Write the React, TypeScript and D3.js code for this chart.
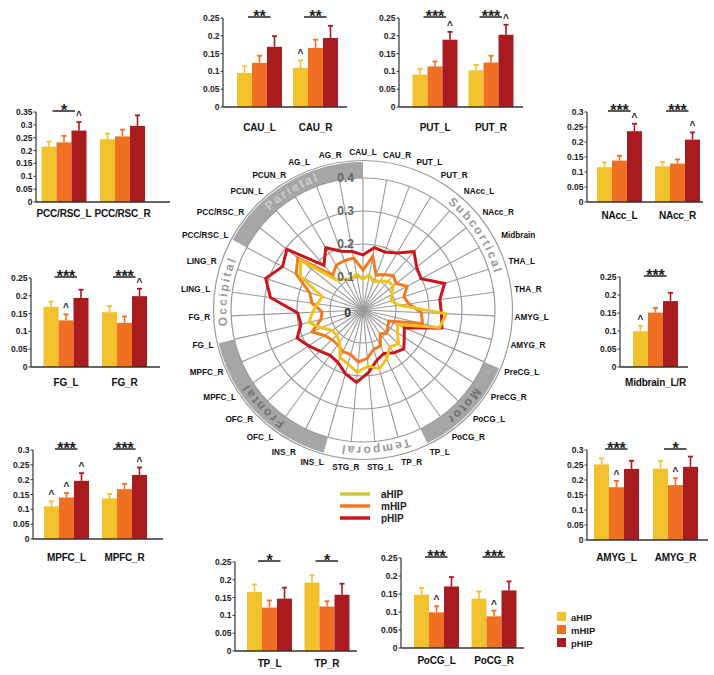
import React from 'react';
import * as d3 from 'd3';

// ---------------- Radar data ----------------
const regions = ['CAU_L','CAU_R','PUT_L','PUT_R','NAcc_L','NAcc_R','Midbrain','THA_L','THA_R','AMYG_L','AMYG_R','PreCG_L','PreCG_R','PoCG_L','PoCG_R','TP_L','TP_R','STG_L','STG_R','INS_L','INS_R','OFC_L','OFC_R','MPFC_L','MPFC_R','FG_L','FG_R','LING_L','LING_R','PCC/RSC_L','PCC/RSC_R','PCUN_L','PCUN_R','AG_L','AG_R'];
const radarA = [0.093,0.108,0.091,0.102,0.116,0.118,0.099,0.09,0.11,0.253,0.238,0.114,0.125,0.149,0.138,0.165,0.185,0.17,0.19,0.17,0.16,0.12,0.11,0.112,0.137,0.168,0.153,0.14,0.13,0.215,0.242,0.12,0.109,0.10,0.11];
const radarM = [0.121,0.165,0.113,0.125,0.138,0.129,0.152,0.13,0.14,0.177,0.185,0.085,0.09,0.100,0.089,0.121,0.123,0.147,0.158,0.14,0.14,0.13,0.13,0.140,0.168,0.131,0.124,0.156,0.17,0.230,0.253,0.14,0.158,0.16,0.16];
const radarP = [0.167,0.192,0.188,0.201,0.235,0.208,0.20,0.26,0.235,0.238,0.245,0.136,0.15,0.171,0.160,0.146,0.158,0.19,0.22,0.20,0.176,0.17,0.18,0.197,0.217,0.193,0.198,0.283,0.31,0.277,0.295,0.18,0.22,0.19,0.18];
const radarTicks = [0.1, 0.2, 0.3, 0.4];

const groupNames = ['Subcortical','Motor','Temporal','Frontal','Occipital','Parietal'];
const groupSizes = [11, 4, 4, 6, 4, 6];
const groupShaded = [false, true, false, true, false, true];

const seriesNames = ['aHIP','mHIP','pHIP'];

// ---------------- Bar data ----------------
const barRegions = ['CAU_L','CAU_R','PUT_L','PUT_R','PCC/RSC_L','PCC/RSC_R','FG_L','FG_R','MPFC_L','MPFC_R','NAcc_L','NAcc_R','Midbrain_L/R','AMYG_L','AMYG_R','TP_L','TP_R','PoCG_L','PoCG_R'];
const barA = [0.0955,0.110,0.091,0.103,0.215,0.244,0.169,0.154,0.110,0.137,0.116,0.119,0.099,0.252,0.238,0.166,0.192,0.148,0.137];
const barM = [0.124,0.166,0.114,0.125,0.232,0.255,0.131,0.124,0.140,0.168,0.138,0.128,0.151,0.176,0.183,0.122,0.125,0.099,0.088];
const barP = [0.169,0.194,0.189,0.203,0.278,0.296,0.194,0.199,0.196,0.216,0.236,0.208,0.183,0.237,0.244,0.147,0.158,0.171,0.160];
const errA = [0.019,0.021,0.016,0.015,0.020,0.022,0.015,0.017,0.017,0.015,0.016,0.014,0.015,0.020,0.025,0.021,0.021,0.019,0.020];
const errM = [0.020,0.023,0.014,0.019,0.025,0.026,0.017,0.018,0.015,0.018,0.016,0.014,0.013,0.021,0.023,0.020,0.015,0.017,0.016];
const errP = [0.030,0.034,0.022,0.028,0.033,0.041,0.023,0.021,0.026,0.025,0.025,0.024,0.023,0.027,0.034,0.031,0.031,0.026,0.025];
const barStars = ['**','**','***','***','*','','***','***','***','***','***','***','***','***','*','*','*','***','***'];
const barCarets = ['','a','p','p','p','','m','p','amp','p','p','p','a','m','m','','','m','m'];

// ---------------- Layout (positions only) ----------------
const panels = [
  { regions: ['CAU_L','CAU_R'], axisX: 223, axisEnd: 347, y0: 107, yTop: 18, max: 0.25, band: [231.5, 343.5], labelY: 131 },
  { regions: ['PUT_L','PUT_R'], axisX: 399, axisEnd: 523, y0: 107, yTop: 18, max: 0.25, band: [407, 519], labelY: 131 },
  { regions: ['PCC/RSC_L','PCC/RSC_R'], axisX: 36, axisEnd: 170, y0: 202, yTop: 112, max: 0.35, band: [34.75, 151.75], labelY: 217 },
  { regions: ['FG_L','FG_R'], axisX: 31, axisEnd: 160, y0: 367, yTop: 278, max: 0.25, band: [36.75, 153.75], labelY: 386 },
  { regions: ['MPFC_L','MPFC_R'], axisX: 33, axisEnd: 163, y0: 539, yTop: 450, max: 0.3, band: [37.5, 153.5], labelY: 561 },
  { regions: ['NAcc_L','NAcc_R'], axisX: 587, axisEnd: 703, y0: 202, yTop: 112, max: 0.3, band: [590.5, 706.5], labelY: 219 },
  { regions: ['Midbrain_L/R'], axisX: 620, axisEnd: 688, y0: 367, yTop: 277, max: 0.25, band: [620.5, 690.5], labelY: 386 },
  { regions: ['AMYG_L','AMYG_R'], axisX: 587, axisEnd: 708, y0: 540, yTop: 450, max: 0.3, band: [587, 705], labelY: 561 },
  { regions: ['TP_L','TP_R'], axisX: 235, axisEnd: 357, y0: 651, yTop: 562, max: 0.25, band: [240.75, 355.75], labelY: 667 },
  { regions: ['PoCG_L','PoCG_R'], axisX: 401, axisEnd: 524, y0: 648, yTop: 558, max: 0.25, band: [407.75, 522.75], labelY: 664 },
];

const barColors = ['#f2c12e', '#f07023', '#a81c20'];
const lineColors = ['#f0c21c', '#f07a22', '#c8161c'];
const FONT = 'Arial, "Liberation Sans", Helvetica, sans-serif';

function fmt(t: number) {
  return String(+t.toFixed(2));
}

function BarPanel({ p }: { p: any }) {
  const y = d3.scaleLinear().domain([0, p.max]).range([p.y0, p.yTop]);
  const x = d3.scaleBand<string>().domain(p.regions).range(p.band);
  const inner = d3.scaleBand<string>().domain(seriesNames).range([-22.5, 22.5]);
  const ticks = d3.range(0, p.max + 1e-9, 0.05);
  return (
    <g>
      {p.regions.map((reg: string) => {
        const k = barRegions.indexOf(reg);
        const c = (x(reg) as number) + x.bandwidth() / 2;
        const means = [barA[k], barM[k], barP[k]];
        const errs = [errA[k], errM[k], errP[k]];
        const caret = barCarets[k];
        const star = barStars[k];
        const sigY = p.yTop - 1;
        return (
          <g key={reg}>
            {seriesNames.map((s, j) => {
              const bx = c + (inner(s) as number);
              const bw = inner.bandwidth();
              const top = y(means[j]);
              const et = y(means[j] + errs[j]);
              const mx = bx + bw / 2;
              const hasCaret = caret.includes(s[0]);
              return (
                <g key={s}>
                  <line x1={mx} x2={mx} y1={top} y2={et} stroke={barColors[j]} strokeWidth={1.6} />
                  <line x1={mx - 2.5} x2={mx + 2.5} y1={et} y2={et} stroke={barColors[j]} strokeWidth={1.8} />
                  <rect x={bx} y={top} width={bw} height={p.y0 - top} fill={barColors[j]} />
                  {hasCaret && (
                    <text x={mx} y={et - 3} textAnchor="middle" fontSize={10} fontWeight="bold" fill="#222" fontFamily={FONT}>^</text>
                  )}
                </g>
              );
            })}
            {star && (
              <g>
                <line x1={c - 11.5} x2={c + 11} y1={sigY} y2={sigY} stroke="#222" strokeWidth={1.5} />
                <text x={c} y={sigY + 4.5} textAnchor="middle" fontSize={16} fontWeight="bold" fill="#222" fontFamily={FONT}>{star}</text>
              </g>
            )}
            <text x={c} y={p.labelY} textAnchor="middle" fontSize={10} letterSpacing={-0.2} fontWeight="bold" fill="#111" fontFamily={FONT}>{reg}</text>
          </g>
        );
      })}
      <line x1={p.axisX} x2={p.axisX} y1={p.y0} y2={y(p.max)} stroke="#333" strokeWidth={1.2} />
      <line x1={p.axisX} x2={p.axisEnd} y1={p.y0} y2={p.y0} stroke="#333" strokeWidth={1.4} />
      {ticks.map((t: number) => (
        <g key={t}>
          <line x1={p.axisX - 2.5} x2={p.axisX} y1={y(t)} y2={y(t)} stroke="#333" strokeWidth={1} />
          <text x={p.axisX - 3.5} y={y(t) + 3} textAnchor="end" fontSize={8.5} fontWeight="bold" fill="#222" fontFamily={FONT}>{fmt(t)}</text>
        </g>
      ))}
    </g>
  );
}

export default function App() {
  const cx = 363, cy = 310;
  const n = regions.length;
  const step = (2 * Math.PI) / n;
  const r = d3.scaleLinear().domain([0, 0.4]).range([0, 132]);
  const rIn = r(0.4), rOut = 148;
  const radial = d3.lineRadial<number>().angle((_d, i) => i * step).radius((d) => r(d)).curve(d3.curveLinearClosed);
  const arc = d3.arc<any>();

  let acc = 0;
  const groups = groupNames.map((name, g) => {
    const s = acc * step;
    acc += groupSizes[g];
    const e = acc * step;
    return { name, s, e, shaded: groupShaded[g] };
  });

  const pt = (ang: number, rad: number) => [cx + rad * Math.sin(ang), cy - rad * Math.cos(ang)];
  const rt = 136.5;

  const series = [radarP, radarM, radarA];
  const seriesCols = [lineColors[2], lineColors[1], lineColors[0]];

  return (
    <svg width={714} height={675} style={{ position: 'absolute', left: 0, top: 0, background: '#fff' }} fontFamily={FONT}>
      <rect width={714} height={675} fill="#fff" />
      {/* Radar */}
      <g>
        {groups.map((g, i) => (
          <path key={'b' + i} transform={`translate(${cx},${cy})`}
            d={arc({ innerRadius: rIn, outerRadius: rOut, startAngle: g.s, endAngle: g.e }) as string}
            fill={g.shaded ? '#a6a6a6' : '#fff'} />
        ))}
        <circle cx={cx} cy={cy} r={rOut + 1.5} fill="none" stroke="#9a9a9a" strokeWidth={1.2} />
        {radarTicks.map((t) => (
          <circle key={t} cx={cx} cy={cy} r={r(t)} fill="none" stroke="#9a9a9a" strokeWidth={1.2} />
        ))}
        {regions.map((reg, i) => {
          const [x2, y2] = pt(i * step, rIn);
          return <line key={reg} x1={cx} y1={cy} x2={x2} y2={y2} stroke="#9a9a9a" strokeWidth={1.1} />;
        })}
        {groups.map((g, i) => {
          const [x1, y1] = pt(g.s, rt);
          const [x2, y2] = pt(g.e, rt);
          const large = g.e - g.s > Math.PI ? 1 : 0;
          return (
            <g key={'t' + i}>
              <path id={'gp' + i} d={`M${x1},${y1} A${rt},${rt} 0 ${large} 1 ${x2},${y2}`} fill="none" />
              <text fontSize={12} fontWeight="bold" letterSpacing={2}
                fill={g.name === 'Parietal' ? '#cdcdcd' : g.shaded ? '#707070' : '#9a9a9a'}>
                <textPath href={'#gp' + i} startOffset="50%" textAnchor="middle">{g.name}</textPath>
              </text>
            </g>
          );
        })}
        {series.map((vals, k) => (
          <path key={k} transform={`translate(${cx},${cy})`} d={radial(vals) as string}
            fill="none" stroke={seriesCols[k]} strokeWidth={3} strokeLinejoin="miter" />
        ))}
        {radarTicks.map((t) => (
          <text key={'l' + t} x={cx - 9} y={cy - r(t) + 4} textAnchor="end" fontSize={12} fontWeight="bold" fill="#666">{t}</text>
        ))}
        <text x={cx - 12} y={cy + 7} textAnchor="end" fontSize={12} fontWeight="bold" fill="#333">0</text>
        {regions.map((reg, i) => {
          const a = i * step;
          const [x, y] = pt(a, 154);
          const s = Math.sin(a), c = Math.cos(a);
          const fs = 8.2;
          const w = reg.length * 0.6 * fs;
          const k = Math.max(-1, Math.min(1, s * 3));
          const by = y + 0.35 * fs - c * 0.45 * fs;
          return (
            <text key={'rl' + reg} x={x + (k * w) / 2} y={by} textAnchor="middle" fontSize={fs} fontWeight="bold" fill="#111">{reg}</text>
          );
        })}
      </g>
      {/* Radar legend */}
      {seriesNames.map((s, j) => (
        <g key={'rleg' + s}>
          <line x1={340} x2={370} y1={494 + j * 12} y2={494 + j * 12} stroke={j === 0 ? '#cfc83a' : lineColors[j]} strokeWidth={3.5} />
          <text x={381} y={497.5 + j * 12} fontSize={10} fontWeight="bold" fill="#222">{s}</text>
        </g>
      ))}
      {/* Bar panels */}
      {panels.map((p, i) => <BarPanel key={i} p={p} />)}
      {/* Bar legend */}
      {seriesNames.map((s, j) => (
        <g key={'bleg' + s}>
          <rect x={557} y={612 + j * 13} width={9} height={9} fill={barColors[j]} />
          <text x={571} y={620.5 + j * 13} fontSize={9.5} fontWeight="bold" fill="#222">{s}</text>
        </g>
      ))}
    </svg>
  );
}
